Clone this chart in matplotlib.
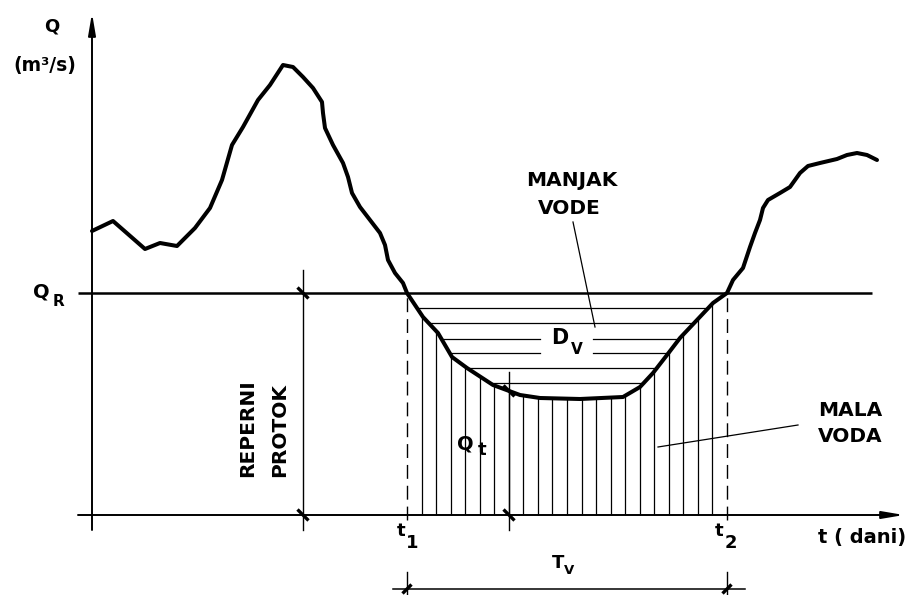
import numpy as np
import matplotlib
matplotlib.use("Agg")
import matplotlib.pyplot as plt

# Hydrograph: time (days) and discharge Q (m3/s)
t_days = [0.0, 2.1, 5.3, 6.8, 8.5, 10.3, 11.8, 13.0, 14.0, 15.1, 16.6, 17.8,
          19.1, 20.1, 21.1, 22.1, 23.0, 23.1, 23.3, 24.1, 25.1, 25.6, 26.0,
          26.8, 27.8, 28.8, 29.3, 29.6, 30.3, 31.1, 31.5, 33.1, 34.6, 36.0,
          37.5, 40.1, 42.8, 44.8, 48.8, 53.1, 54.8, 56.1, 57.5, 58.8, 60.5,
          62.1, 63.5, 64.1, 65.1, 65.8, 66.3, 66.8, 67.1, 67.6, 68.8, 69.8,
          70.8, 71.6, 72.8, 74.5, 75.5, 76.5, 77.5, 78.5]
q_flow = [28.4, 29.4, 26.6, 27.2, 26.9, 28.7, 30.7, 33.5, 37.0, 38.8, 41.5,
          43.0, 45.0, 44.8, 43.8, 42.7, 41.3, 40.2, 38.7, 37.0, 35.2, 33.8,
          32.2, 30.8, 29.5, 28.2, 27.0, 25.5, 24.2, 23.2, 22.2, 19.8, 18.2,
          15.8, 14.7, 13.0, 12.0, 11.7, 11.6, 11.8, 12.8, 14.2, 16.0, 17.7,
          19.5, 21.2, 22.2, 23.5, 24.7, 26.8, 28.2, 29.5, 30.7, 31.5, 32.2,
          32.8, 34.2, 34.9, 35.2, 35.6, 36.0, 36.2, 36.0, 35.5]

q_ref = 22.2          # reference discharge Q_R
t_1, t_2 = 31.5, 63.5  # start / end of the low-flow period
n_strips = 22          # vertical hatching strips between t1 and t2
hatch_levels = [20.7, 19.2, 17.6, 16.2, 14.7, 13.2]  # horizontal hatching
t_reperni = 21.1       # dimension line for the reference discharge
t_qt = 41.7            # dimension line for Q_t

t_arr = np.array(t_days)
q_arr = np.array(q_flow)

fig = plt.figure(figsize=(9.11, 5.95), dpi=100)
ax = fig.add_axes([0, 0, 1, 1])
ax.set_xlim(-9.2, 81.9)
ax.set_ylim(-8.0, 51.5)
ax.axis("off")

K = "black"
FONT = "DejaVu Sans"

# axes with arrow heads
arrow = dict(arrowstyle="-|>,head_length=1.3,head_width=0.22", lw=1.4,
             color=K, shrinkA=0, shrinkB=0)
ax.annotate("", xy=(0, 50.2), xytext=(0, -1.5), arrowprops=arrow)
ax.annotate("", xy=(81.2, 0), xytext=(-1.4, 0), arrowprops=arrow)

# reference discharge line
ax.plot([-1.4, 78.0], [q_ref, q_ref], color=K, lw=1.8, solid_capstyle="butt")

# low-flow region: vertical hatching under the curve
strip_t = np.linspace(t_1, t_2, n_strips + 1)[1:-1]
strip_q = np.interp(strip_t, t_arr, q_arr)
ax.vlines(strip_t, 0, strip_q, color=K, lw=0.9)

# dashed bounds at t1 and t2
for tt in (t_1, t_2):
    ax.plot([tt, tt], [-0.5, q_ref], color=K, lw=1.0, linestyle=(0, (10, 5)))

# water deficit: horizontal hatching between Q_R and the curve
sel = (t_arr >= t_1) & (t_arr <= t_2)
ts, qs = t_arr[sel], q_arr[sel]
imin = int(np.argmin(qs))
left_t, left_q = ts[:imin + 1], qs[:imin + 1]
right_t, right_q = ts[imin:], qs[imin:]
gap = (44.8, 50.1)
for lev in hatch_levels:
    a = np.interp(lev, left_q[::-1], left_t[::-1])
    b = np.interp(lev, right_q, right_t)
    if lev in (17.6, 16.2):
        ax.plot([a, gap[0]], [lev, lev], color=K, lw=0.9)
        ax.plot([gap[1], b], [lev, lev], color=K, lw=0.9)
    else:
        ax.plot([a, b], [lev, lev], color=K, lw=0.9)

# hydrograph
ax.plot(t_arr, q_arr, color=K, lw=2.9, solid_joinstyle="round",
        solid_capstyle="round")


def slash(x, y, d=0.55, sign=-1):
    ax.plot([x - d, x + d], [y - sign * d, y + sign * d], color=K, lw=2.4,
            solid_capstyle="butt")


# dimension line: reference discharge
ax.plot([t_reperni, t_reperni], [-1.5, 24.5], color=K, lw=1.0)
slash(t_reperni, q_ref)
slash(t_reperni, 0)

# dimension line: Q_t
q_at_qt = float(np.interp(t_qt, t_arr, q_arr))
ax.plot([t_qt, t_qt], [-1.5, q_at_qt + 1.9], color=K, lw=1.0)
slash(t_qt, q_at_qt)
slash(t_qt, 0)

# dimension line: duration T_v
y_tv = -7.4
ax.plot([t_1 - 1.4, t_2 + 1.8], [y_tv, y_tv], color=K, lw=1.1)
for tt in (t_1, t_2):
    ax.plot([tt, tt], [y_tv - 0.5, y_tv + 1.7], color=K, lw=1.0)
    slash(tt, y_tv, d=0.45, sign=1)

txt = dict(family=FONT, fontweight="bold", color=K)

# labels
ax.text(-4.0, 48.8, "Q", fontsize=13, ha="center", va="center", **txt)
ax.text(-4.7, 44.9, "(m³/s)", fontsize=13.5, ha="center", va="center", **txt)
ax.text(-5.1, 22.3, "Q", fontsize=14, ha="center", va="center", **txt)
ax.text(-3.3, 21.3, "R", fontsize=11, ha="center", va="center", **txt)

ax.text(30.9, -1.6, "t", fontsize=13, ha="center", va="center", **txt)
ax.text(32.0, -2.8, "1", fontsize=13, ha="center", va="center", **txt)
ax.text(62.7, -1.6, "t", fontsize=13, ha="center", va="center", **txt)
ax.text(63.9, -2.8, "2", fontsize=13, ha="center", va="center", **txt)
ax.text(72.6, -2.2, "t ( dani)", fontsize=14, ha="left", va="center", **txt)

ax.text(46.6, -4.8, "T", fontsize=13, ha="center", va="center", **txt)
ax.text(47.7, -5.6, "V", fontsize=9.5, ha="center", va="center", **txt)

ax.text(48.0, 33.5, "MANJAK", fontsize=14.5, ha="center", va="center", **txt)
ax.text(47.7, 30.7, "VODE", fontsize=14.5, ha="center", va="center", **txt)
ax.plot([48.1, 50.3], [29.3, 18.8], color=K, lw=0.9)

ax.text(46.8, 17.7, "D", fontsize=15, ha="center", va="center", **txt)
ax.text(48.5, 16.6, "V", fontsize=11, ha="center", va="center", **txt)

ax.text(37.3, 7.1, "Q", fontsize=14, ha="center", va="center", **txt)
ax.text(39.0, 6.5, "t", fontsize=13, ha="center", va="center", **txt)

ax.text(75.8, 10.4, "MALA", fontsize=14.5, ha="center", va="center", **txt)
ax.text(75.8, 7.8, "VODA", fontsize=14.5, ha="center", va="center", **txt)
ax.plot([56.6, 70.6], [6.8, 9.0], color=K, lw=0.9)

ax.text(15.6, 3.8, "REPERNI", fontsize=14.5, rotation=90, ha="left",
        va="center", rotation_mode="anchor", **txt)
ax.text(18.8, 3.8, "PROTOK", fontsize=14.5, rotation=90, ha="left",
        va="center", rotation_mode="anchor", **txt)

fig.savefig("out.png", dpi=100, facecolor="white")
